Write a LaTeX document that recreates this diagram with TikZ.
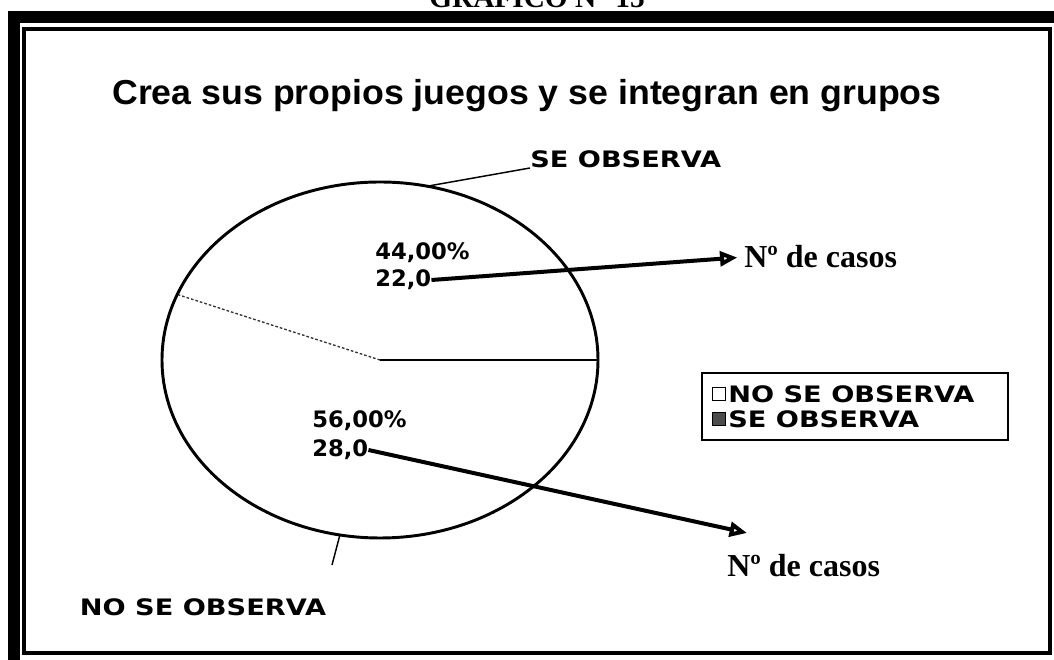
\documentclass[tikz,border=0pt]{standalone}
\usepackage{fontspec}
\setmainfont{Liberation Serif}
\newfontfamily\titlefont{Liberation Sans}[FakeStretch=1.03]
\newfontfamily\lblfont{DejaVu Sans}[FakeStretch=1.2]
\newfontfamily\numfont{DejaVu Sans}
\usetikzlibrary{arrows.meta,calc}

\begin{document}
\begin{tikzpicture}[x=0.75pt,y=0.75pt,
    lbl/.style={font=\lblfont\bfseries\fontsize{17}{17}\selectfont,inner sep=0pt},
    num/.style={font=\numfont\bfseries\fontsize{17}{17}\selectfont,inner sep=0pt,anchor=west},
    casos/.style={font=\bfseries\fontsize{24}{24}\selectfont,inner sep=0pt,anchor=base west},
    guia/.style={line width=1.1pt},
    flecha/.style={line width=3pt,-{Triangle[open,length=13pt,width=11pt]}},
    marca/.style={draw,line width=1.2pt,minimum size=10pt,inner sep=0pt}]
  \clip (0,0) rectangle (1054,660);
  % marco
  \draw[line width=9pt] (14,-20) rectangle (1080,643);
  \draw[line width=3.5pt] (24,7) rectangle (1050,631);
  \node[anchor=base,font=\bfseries\fontsize{22}{22}\selectfont] (graf) at (537,652) {GRÁFICO N° 15};
  \node[font=\titlefont\bfseries\fontsize{26}{26}\selectfont] (tit) at (527,564)
    {Crea sus propios juegos y se integran en grupos};
  % pastel
  \coordinate (c) at (380,300);
  \draw[line width=1.3pt] (c) -- ($(c)+(218,0)$);
  \draw[dash pattern=on 2pt off 1.5pt,line width=1pt,black!80] (c) -- ($(c)+(158.4:218 and 178)$);
  \draw[line width=2.2pt] (c) ellipse [x radius=218, y radius=178];
  % etiquetas de sectores
  \node[lbl,anchor=south west] (seLbl) at (530,492) {SE OBSERVA};
  \node[lbl] (noLbl) at (203,53) {NO SE OBSERVA};
  \coordinate (noEnd) at (332,95);
  \draw[guia] ($(c)+(77.5:218 and 178)$) -- (seLbl.south west);
  \draw[guia] ($(c)+(-100.6:218 and 178)$) -- (noEnd);
  \node[num] (sePct) at (375,407) {44,00\%};
  \node[num] (seVal) at (375,380) {22,0};
  \node[num] (noPct) at (312,239) {56,00\%};
  \node[num] (noVal) at (312,210) {28,0};
  % casos
  \node[casos] (seCasos) at (744,392) {Nº de casos};
  \node[casos] (noCasos) at (727,83) {Nº de casos};
  \coordinate (noTip) at (747,127);
  \draw[flecha,shorten >=5pt] (seVal.east) -- (seCasos.west);
  \draw[flecha] (noVal.east) -- (noTip);
  % leyenda
  \node[draw,line width=1.5pt,minimum width=229.5pt,minimum height=50.25pt] (ley) at (855,253.5) {};
  \node[marca] (mNo) at (719,266) {};
  \node[marca,fill=black!70] (mSe) at (719,241) {};
  \node[lbl,anchor=west] (tNo) at (728,266) {NO SE OBSERVA};
  \node[lbl,anchor=west] (tSe) at (728,241) {SE OBSERVA};
\end{tikzpicture}
\end{document}
